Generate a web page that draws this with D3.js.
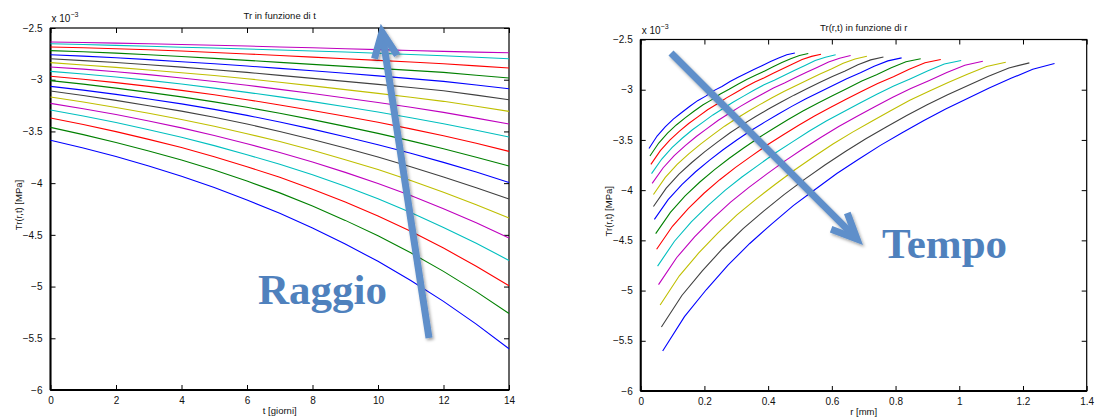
<!DOCTYPE html>
<html>
<head>
<meta charset="utf-8">
<script src="https://cdn.jsdelivr.net/npm/d3@7"></script>
<style>
  html, body { margin: 0; padding: 0; background: #fff; }
  svg { display: block; }
  text { font-family: "Liberation Sans", Arial, Helvetica, sans-serif; fill: #111; }
</style>
</head>
<body>
<svg id="chart" width="1096" height="420"></svg>
<script>
// ---------------- DATA (values in units of 1e-3 MPa) ----------------
const tDays = [0,1,2,3,4,5,6,7,8,9,10,11,12,13,14];

// One series per radius (inner -> outer), each value at tDays
const tr00 = [-3.586,-3.660,-3.743,-3.835,-3.933,-4.043,-4.163,-4.291,-4.433,-4.589,-4.756,-4.941,-5.143,-5.363,-5.601];
const tr01 = [-3.461,-3.531,-3.607,-3.690,-3.777,-3.873,-3.980,-4.094,-4.221,-4.360,-4.509,-4.673,-4.853,-5.049,-5.260];
const tr02 = [-3.370,-3.433,-3.502,-3.577,-3.656,-3.744,-3.841,-3.944,-4.058,-4.183,-4.317,-4.466,-4.628,-4.803,-4.992];
const tr03 = [-3.293,-3.351,-3.414,-3.483,-3.557,-3.637,-3.725,-3.817,-3.919,-4.031,-4.151,-4.284,-4.428,-4.581,-4.747];
const tr04 = [-3.229,-3.280,-3.337,-3.399,-3.466,-3.539,-3.619,-3.703,-3.796,-3.896,-4.003,-4.120,-4.247,-4.384,-4.531];
const tr05 = [-3.167,-3.215,-3.268,-3.325,-3.385,-3.450,-3.522,-3.598,-3.682,-3.773,-3.869,-3.975,-4.089,-4.209,-4.338];
const tr06 = [-3.109,-3.152,-3.200,-3.251,-3.304,-3.363,-3.428,-3.500,-3.578,-3.661,-3.748,-3.841,-3.941,-4.044,-4.154];
const tr07 = [-3.064,-3.101,-3.142,-3.187,-3.234,-3.287,-3.345,-3.409,-3.478,-3.551,-3.628,-3.711,-3.799,-3.893,-3.993];
const tr08 = [-3.009,-3.043,-3.081,-3.122,-3.166,-3.214,-3.267,-3.325,-3.386,-3.451,-3.519,-3.591,-3.667,-3.749,-3.835];
const tr09 = [-2.967,-2.996,-3.028,-3.064,-3.103,-3.146,-3.193,-3.244,-3.297,-3.354,-3.412,-3.475,-3.541,-3.615,-3.693];
const tr10 = [-2.919,-2.945,-2.974,-3.006,-3.042,-3.081,-3.122,-3.166,-3.212,-3.261,-3.312,-3.367,-3.425,-3.488,-3.554];
const tr11 = [-2.877,-2.898,-2.923,-2.951,-2.983,-3.017,-3.054,-3.093,-3.134,-3.177,-3.221,-3.267,-3.316,-3.371,-3.428];
const tr12 = [-2.835,-2.857,-2.881,-2.906,-2.932,-2.960,-2.990,-3.025,-3.060,-3.096,-3.132,-3.170,-3.209,-3.257,-3.306];
const tr13 = [-2.797,-2.815,-2.834,-2.855,-2.878,-2.903,-2.929,-2.958,-2.987,-3.016,-3.045,-3.075,-3.106,-3.149,-3.193];
const tr14 = [-2.758,-2.772,-2.788,-2.806,-2.826,-2.846,-2.868,-2.890,-2.914,-2.938,-2.963,-2.989,-3.016,-3.051,-3.087];
const tr15 = [-2.719,-2.730,-2.743,-2.758,-2.776,-2.794,-2.813,-2.832,-2.852,-2.871,-2.890,-2.910,-2.929,-2.957,-2.984];
const tr16 = [-2.684,-2.691,-2.700,-2.710,-2.723,-2.737,-2.751,-2.766,-2.782,-2.797,-2.813,-2.829,-2.845,-2.866,-2.887];
const tr17 = [-2.652,-2.660,-2.668,-2.677,-2.686,-2.694,-2.703,-2.713,-2.722,-2.732,-2.744,-2.756,-2.768,-2.783,-2.797];
const tr18 = [-2.635,-2.640,-2.646,-2.652,-2.659,-2.667,-2.674,-2.683,-2.691,-2.700,-2.709,-2.717,-2.726,-2.733,-2.739];
const trSeries = [tr00,tr01,tr02,tr03,tr04,tr05,tr06,tr07,tr08,tr09,tr10,tr11,tr12,tr13,tr14,tr15,tr16,tr17,tr18];

// Radial domain at each time step (mm): inner and outer radius
const rInner = [0.026,0.029,0.032,0.034,0.036,0.040,0.040,0.043,0.047,0.050,0.053,0.056,0.061,0.065,0.069];
const rOuter = [0.484,0.526,0.566,0.612,0.659,0.710,0.762,0.819,0.879,0.942,1.006,1.074,1.146,1.220,1.299];
// normalized position of each radial node between inner and outer radius
const radialFrac = [0,0.0556,0.1111,0.1667,0.2222,0.2778,0.3333,0.3889,0.4444,0.5,0.5556,0.6111,0.6667,0.7222,0.7778,0.8333,0.8889,0.9444,1];

const yTicks = [-6,-5.5,-5,-4.5,-4,-3.5,-3,-2.5];
const xTicksL = [0,2,4,6,8,10,12,14];
const xTicksR = [0,0.2,0.4,0.6,0.8,1,1.2,1.4];
const xTickLabelsR = ["0","0.2","0.4","0.6","0.8","1","1.2","1.4"];
const lineColors = ["#0000ff","#008000","#ff0000","#00bfbf","#bf00bf","#bfbf00","#404040"];

// ---------------- DRAW ----------------
const svg = d3.select("#chart");
svg.append("rect").attr("width",1096).attr("height",420).attr("fill","#fff");

const defs = svg.append("defs");
const f = defs.append("filter").attr("id","shadow").attr("x","-20%").attr("y","-20%").attr("width","140%").attr("height","140%");
f.append("feDropShadow").attr("dx",1.5).attr("dy",2).attr("stdDeviation",1.6)
  .attr("flood-color","#000").attr("flood-opacity",0.35);

const fmtY = v => (v < 0 ? "\u2212" : "") + String(Math.abs(v));

function drawFrame(g, x, y, xTicks, xLabels, title, xLabel, yLabel, box, titleY) {
  const [x0,x1,y0,y1] = box;
  // ticks bottom with labels
  g.append("g").attr("transform",`translate(0,${y1})`)
    .call(d3.axisBottom(x).tickValues(xTicks).tickSize(-5).tickSizeOuter(0).tickPadding(7)
      .tickFormat((d,i) => xLabels[i]))
    .call(a => a.select(".domain").remove())
    .call(a => a.selectAll("text").attr("font-size",10).attr("fill","#111")
      .attr("font-family",'"Liberation Sans", Arial, sans-serif'));
  g.append("g").attr("transform",`translate(0,${y0})`)
    .call(d3.axisTop(x).tickValues(xTicks).tickSize(-5).tickSizeOuter(0).tickFormat(""))
    .call(a => a.select(".domain").remove());
  g.append("g").attr("transform",`translate(${x0},0)`)
    .call(d3.axisLeft(y).tickValues(yTicks).tickSize(-5).tickSizeOuter(0).tickPadding(8).tickFormat(fmtY))
    .call(a => a.select(".domain").remove())
    .call(a => a.selectAll("text").attr("font-size",10).attr("fill","#111")
      .attr("font-family",'"Liberation Sans", Arial, sans-serif'));
  g.append("g").attr("transform",`translate(${x1},0)`)
    .call(d3.axisRight(y).tickValues(yTicks).tickSize(-5).tickSizeOuter(0).tickFormat(""))
    .call(a => a.select(".domain").remove());
  g.selectAll(".tick line").attr("stroke","#000").attr("stroke-width",1);
  // box
  g.append("rect").attr("x",x0).attr("y",y0).attr("width",x1-x0).attr("height",y1-y0)
    .attr("fill","none").attr("stroke","#000").attr("stroke-width",1.2);
  g.append("line").attr("x1",x0).attr("x2",x1).attr("y1",y1).attr("y2",y1).attr("stroke","#000").attr("stroke-width",2);
  g.append("line").attr("x1",x0).attr("x2",x0).attr("y1",y0).attr("y2",y1).attr("stroke","#000").attr("stroke-width",2);
  // exponent
  const ex = g.append("text").attr("x",x0+1).attr("y",y0-6).attr("font-size",10);
  ex.append("tspan").text("x 10");
  ex.append("tspan").attr("dy",-5).attr("font-size",7).text("\u22123");
  // title
  g.append("text").attr("x",(x0+x1)/2).attr("y",titleY).attr("text-anchor","middle")
    .attr("font-size",9.5).text(title);
  g.append("text").attr("x",(x0+x1)/2).attr("y",y1+24).attr("text-anchor","middle")
    .attr("font-size",9.5).text(xLabel);
  g.append("text").attr("transform",`translate(${x0-29},${(y0+y1)/2-4}) rotate(-90)`)
    .attr("text-anchor","middle").attr("font-size",9.5).text(yLabel);
}

// ---- Left chart: Tr vs t ----
const L = [50.5, 509, 28, 390];
const xL = d3.scaleLinear().domain([0,14]).range([L[0],L[1]]);
const yL = d3.scaleLinear().domain([-6,-2.5]).range([L[3],L[2]]);
const gL = svg.append("g");
drawFrame(gL, xL, yL, xTicksL, xTicksL.map(String), "Tr in funzione di t", "t [giorni]", "Tr(r,t)  [MPa]", L, 19);
const lineL = d3.line().x((d,j) => xL(tDays[j])).y(d => yL(d));
gL.append("g").selectAll("path").data(trSeries).join("path")
  .attr("d", lineL).attr("fill","none").attr("stroke-width",1.1)
  .attr("stroke",(d,i) => lineColors[i % 7]);

// ---- Right chart: Tr vs r ----
const R = [640.7, 1086.7, 39.5, 391];
const xR = d3.scaleLinear().domain([0,1.4]).range([R[0],R[1]]);
const yR = d3.scaleLinear().domain([-6,-2.5]).range([R[3],R[2]]);
const gR = svg.append("g");
drawFrame(gR, xR, yR, xTicksR, xTickLabelsR, "Tr(r,t) in funzione di r", "r [mm]", "Tr(r,t)  [MPa]", R, 31);
const profiles = tDays.map((t,j) => trSeries.map((s,i) => ({
  r: rInner[j] + radialFrac[i]*(rOuter[j]-rInner[j]), v: s[j] })));
gR.append("g").selectAll("path").data(profiles).join("path")
  .attr("d", d3.line().x(d => xR(d.r)).y(d => yR(d.v)))
  .attr("fill","none").attr("stroke-width",1.1)
  .attr("stroke",(d,j) => lineColors[j % 7]);

// ---- Annotations ----
const arrowColor = "#5f8fca";
function arrow(x1,y1,x2,y2) {
  const g = svg.append("g").attr("filter","url(#shadow)");
  const dx = x2-x1, dy = y2-y1, len = Math.hypot(dx,dy);
  const ux = dx/len, uy = dy/len, nx = -uy, ny = ux;
  g.append("line").attr("x1",x1).attr("y1",y1).attr("x2",x2-ux*3).attr("y2",y2-uy*3)
    .attr("stroke",arrowColor).attr("stroke-width",7);
  const a = [x2-ux*22+nx*10, y2-uy*22+ny*10], b = [x2-ux*22-nx*10, y2-uy*22-ny*10];
  g.append("path").attr("d",`M${a[0]},${a[1]}L${x2},${y2}L${b[0]},${b[1]}`)
    .attr("fill","none").attr("stroke",arrowColor).attr("stroke-width",7)
    .attr("stroke-linejoin","miter").attr("stroke-linecap","square");
}
arrow(429, 338, 382, 32);
arrow(671, 53, 857, 239);

svg.append("text").attr("x",258).attr("y",304)
  .style("font-family",'"Liberation Serif", "DejaVu Serif", serif').style("font-weight","bold")
  .style("font-size","43px").style("fill","#4f81bd").text("Raggio");
svg.append("text").attr("x",882).attr("y",258)
  .style("font-family",'"Liberation Serif", "DejaVu Serif", serif').style("font-weight","bold")
  .style("font-size","43px").style("fill","#4f81bd").text("Tempo");
</script>
</body>
</html>
